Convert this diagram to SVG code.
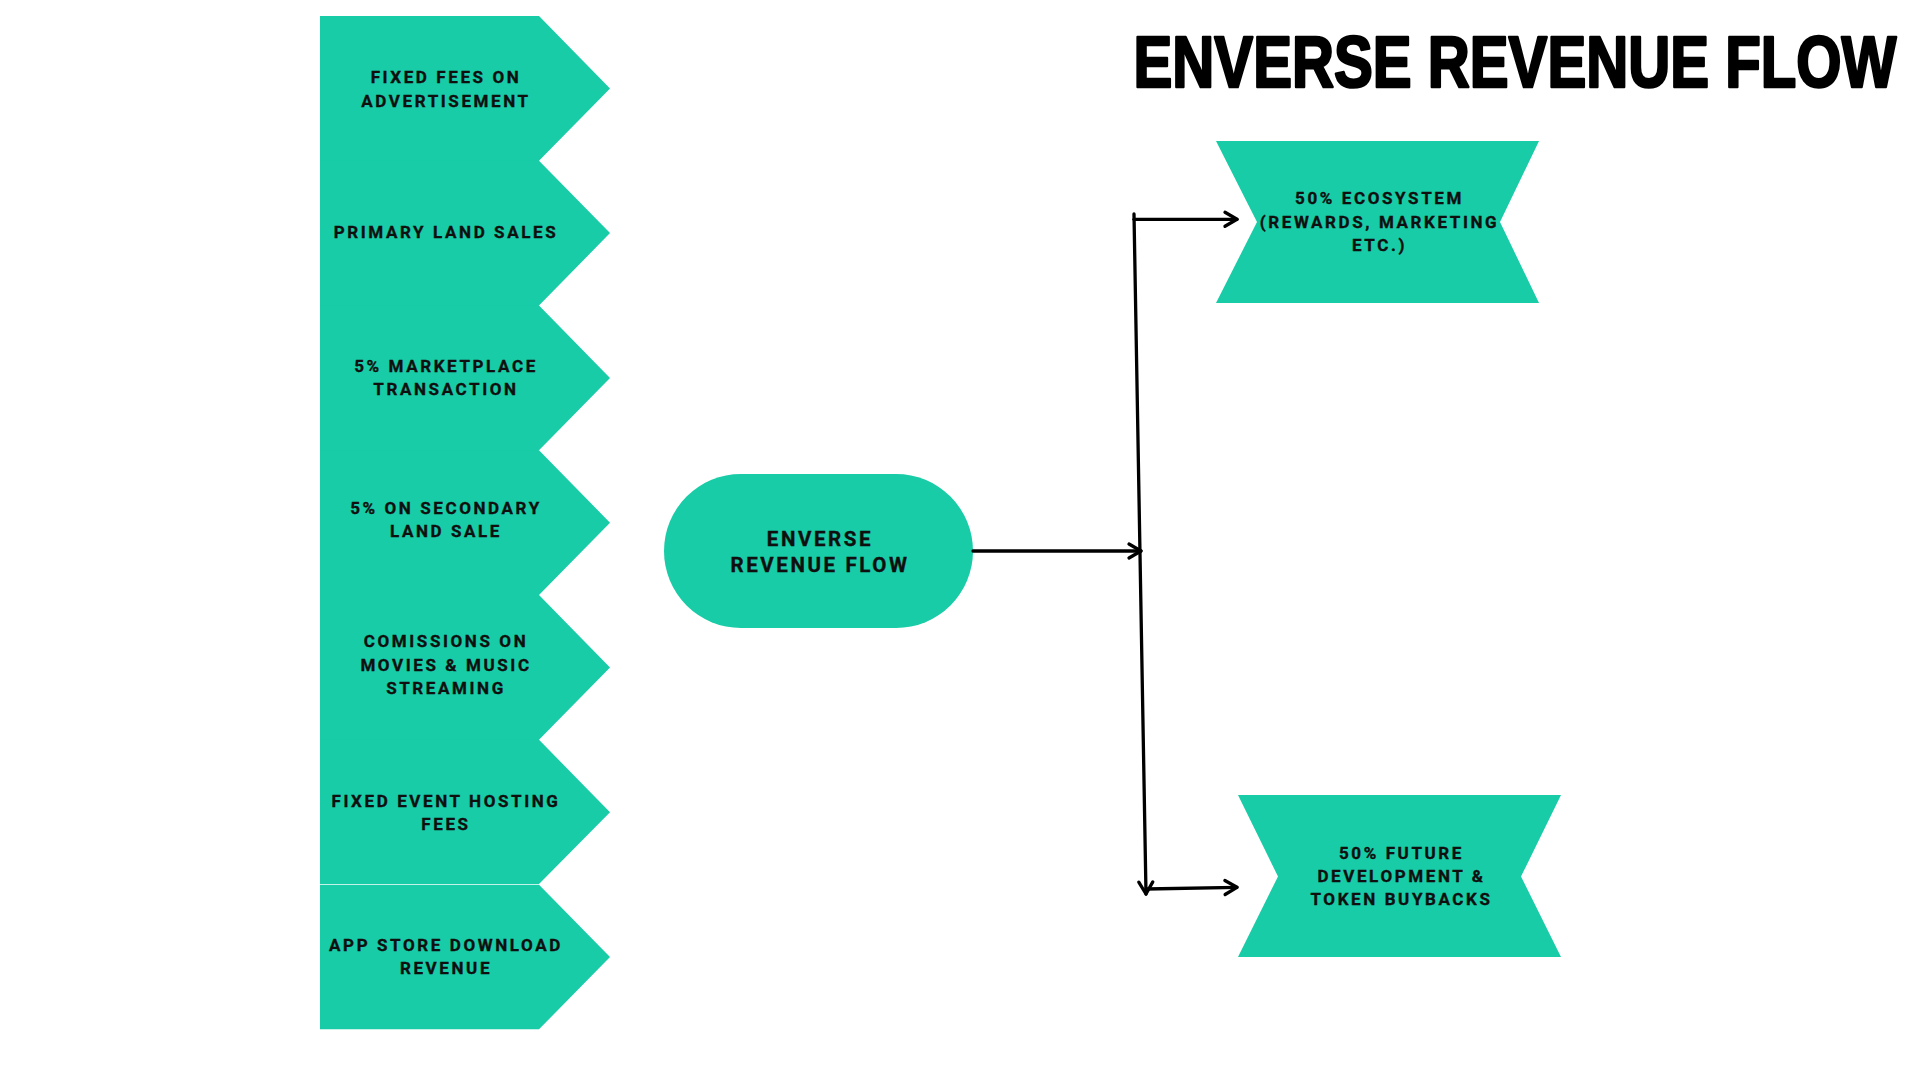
<svg xmlns="http://www.w3.org/2000/svg" width="1920" height="1080" viewBox="0 0 1920 1080">
<defs>
<style>
.shape{fill:#17cca6;}
.lbl{font-family:Roboto,"Liberation Sans",Arial,sans-serif;font-weight:700;font-size:17px;letter-spacing:2.6px;fill:#0f0f0f;stroke:#0f0f0f;stroke-width:0.35px;text-anchor:middle;}
.big{font-size:20.5px;letter-spacing:2.6px;}
.title{font-family:"Liberation Sans",Arial,sans-serif;font-weight:700;font-size:73px;fill:#000;stroke:#000;stroke-width:2.6px;stroke-linejoin:round;}
.conn{fill:none;stroke:#000;stroke-width:3.3;stroke-linecap:round;stroke-linejoin:round;}
</style>
<marker id="arr" viewBox="-15 -10 18 20" markerWidth="18" markerHeight="20" refX="0" refY="0" orient="auto" markerUnits="userSpaceOnUse">
<path d="M-12,-7 L0,0 L-12,7" fill="none" stroke="#000" stroke-width="3.3" stroke-linecap="round" stroke-linejoin="round"/>
</marker>
</defs>
<rect width="1920" height="1080" fill="#fff"/>

<text class="title" x="1133.5" y="86.5" textLength="763" lengthAdjust="spacingAndGlyphs">ENVERSE REVENUE FLOW</text>

<g id="src1">
<polygon class="shape" points="320,16 539,16 610,88.4 538,161.8 320,161.8"/>
<text class="lbl" x="446" y="83"><tspan x="446">FIXED FEES ON</tspan><tspan x="446" y="106.5">ADVERTISEMENT</tspan></text>
</g>
<g id="src2">
<polygon class="shape" points="320,160.8 539,160.8 610,233.1 538,306.5 320,306.5"/>
<text class="lbl" x="446" y="237.5">PRIMARY LAND SALES</text>
</g>
<g id="src3">
<polygon class="shape" points="320,305.5 539,305.5 610,377.9 538,451.3 320,451.3"/>
<text class="lbl" x="446" y="372"><tspan x="446">5% MARKETPLACE</tspan><tspan x="446" y="395.3">TRANSACTION</tspan></text>
</g>
<g id="src4">
<polygon class="shape" points="320,450.3 539,450.3 610,522.7 538,596 320,596"/>
<text class="lbl" x="446" y="514"><tspan x="446">5% ON SECONDARY</tspan><tspan x="446" y="537.3">LAND SALE</tspan></text>
</g>
<g id="src5">
<polygon class="shape" points="320,595 539,595 610,667.4 538,740.8 320,740.8"/>
<text class="lbl" x="446" y="647.4"><tspan x="446">COMISSIONS ON</tspan><tspan x="446" y="670.7">MOVIES &amp; MUSIC</tspan><tspan x="446" y="694">STREAMING</tspan></text>
</g>
<g id="src6">
<polygon class="shape" points="320,739.8 539,739.8 610,812.2 539,884 320,884"/>
<text class="lbl" x="446" y="806.6"><tspan x="446">FIXED EVENT HOSTING</tspan><tspan x="446" y="830">FEES</tspan></text>
</g>
<g id="src7">
<polygon class="shape" points="320,884.8 539,884.8 610,957 539,1029.3 320,1029.3"/>
<text class="lbl" x="446" y="951"><tspan x="446">APP STORE DOWNLOAD</tspan><tspan x="446" y="974.3">REVENUE</tspan></text>
</g>

<g id="hub">
<rect class="shape" x="664" y="474" width="309" height="154" rx="77" ry="77"/>
<text class="lbl big" x="820" y="545.7"><tspan x="820">ENVERSE</tspan><tspan x="820" y="571.7">REVENUE FLOW</tspan></text>
</g>

<g id="out1">
<polygon class="shape" points="1216,141 1539,141 1500,222 1539,303 1216,303 1257,222"/>
<text class="lbl" x="1379.5" y="204.3"><tspan x="1379.5">50% ECOSYSTEM</tspan><tspan x="1379.5" y="227.7">(REWARDS, MARKETING</tspan><tspan x="1379.5" y="251">ETC.)</tspan></text>
</g>

<g id="out2">
<polygon class="shape" points="1238,795 1561,795 1521,876.5 1561,957 1238,957 1278,876.5"/>
<text class="lbl" x="1401.5" y="859"><tspan x="1401.5">50% FUTURE</tspan><tspan x="1401.5" y="882">DEVELOPMENT &amp;</tspan><tspan x="1401.5" y="905">TOKEN BUYBACKS</tspan></text>
</g>

<g id="connectors">
<line class="conn" x1="973" y1="551" x2="1141" y2="551" marker-end="url(#arr)"/>
<line class="conn" x1="1134" y1="214" x2="1146" y2="894" marker-end="url(#arr)"/>
<line class="conn" x1="1134" y1="219.3" x2="1237" y2="219.3" marker-end="url(#arr)"/>
<line class="conn" x1="1146" y1="889" x2="1237" y2="887.3" marker-end="url(#arr)"/>
</g>
</svg>
